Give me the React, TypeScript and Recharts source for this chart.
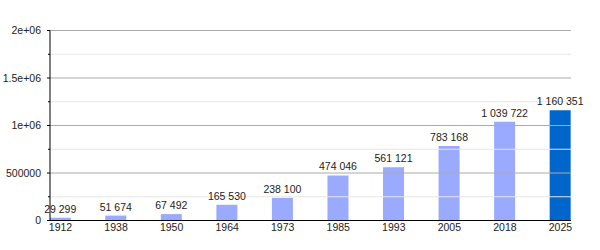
import React from 'react';
import { BarChart, Bar, XAxis, YAxis, ReferenceLine, LabelList, Cell } from 'recharts';

const years = ['1912', '1938', '1950', '1964', '1973', '1985', '1993', '2005', '2018', '2025'];
const population = [29299, 51674, 67492, 165530, 238100, 474046, 561121, 783168, 1039722, 1160351];
const populationLabels = ['29 299', '51 674', '67 492', '165 530', '238 100', '474 046', '561 121', '783 168', '1 039 722', '1 160 351'];
const yMajorTicks = [0, 500000, 1000000, 1500000, 2000000];
const yMajorLabels = ['0', '500000', '1e+06', '1.5e+06', '2e+06'];
const yMinorTicks = [250000, 750000, 1250000, 1750000];

const data = years.map((y, i) => ({ idx: i, year: y, value: population[i], label: populationLabels[i] }));
const allTicks = [...yMajorTicks, ...yMinorTicks].sort((a, b) => a - b);

const FONT = '"Liberation Sans", Arial, sans-serif';

const YTick = (props: any) => {
  const { x, y, payload } = props;
  const v = payload.value;
  const mi = yMajorTicks.indexOf(v);
  const major = mi >= 0;
  return (
    <g>
      <line x1={x - (major ? 3 : 2)} x2={x} y1={y} y2={y} stroke="#000" strokeWidth={1} />
      {major && (
        <text x={x - 9} y={y} dy="0.355em" textAnchor="end" fontSize={10.5} fontFamily={FONT} fill="#222">
          {yMajorLabels[mi]}
        </text>
      )}
    </g>
  );
};

const BarLabel = (props: any) => {
  const { x, y, width, value } = props;
  return (
    <text x={x + width / 2} y={y - 5} textAnchor="middle" fontSize={10.5} fontFamily={FONT} fill="#222">
      {value}
    </text>
  );
};

export default function App() {
  return (
    <div style={{ position: 'absolute', left: 0, top: 0, background: '#fff' }}>
      <BarChart width={600} height={250} data={data} margin={{ top: 30.5, right: 29, bottom: 0, left: 0 }}>
        {yMinorTicks.map((v) => (
          <ReferenceLine key={'mi' + v} y={v} stroke="#e6e6e6" strokeWidth={1} />
        ))}
        {yMajorTicks.slice(1).map((v) => (
          <ReferenceLine key={'ma' + v} y={v} stroke="#aaaaaa" strokeWidth={1} />
        ))}
        <XAxis
          dataKey="idx"
          type="number"
          domain={[-0.189, 9.19]}
          ticks={years.map((_, i) => i)}
          tickFormatter={(v: number) => years[v]}
          interval={0}
          allowDataOverflow
          height={29.5}
          tickLine={false}
          tickSize={0}
          tickMargin={3.5}
          axisLine={{ stroke: '#000' }}
          tick={{ fontSize: 10.5, fontFamily: FONT, fill: '#222' }}
        />
        <YAxis
          type="number"
          domain={[0, 2000000]}
          ticks={allTicks}
          interval={0}
          width={50}
          tickLine={false}
          tickSize={0}
          tickMargin={0}
          axisLine={{ stroke: '#000' }}
          tick={<YTick />}
        />
        <Bar dataKey="value" barSize={21} isAnimationActive={false}>
          {data.map((d, i) => (
            <Cell key={d.year} fill={i === data.length - 1 ? '#0066cc' : '#99aaff'} />
          ))}
          <LabelList dataKey="label" content={<BarLabel />} />
        </Bar>
      </BarChart>
    </div>
  );
}
